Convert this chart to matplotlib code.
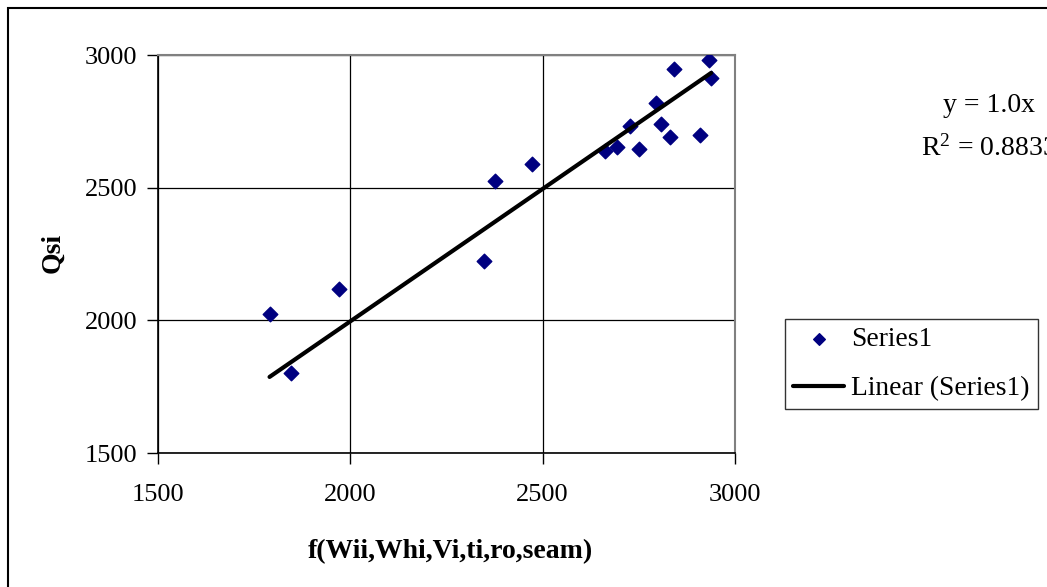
import numpy as np
import matplotlib.pyplot as plt
from matplotlib.patches import Rectangle

# data
x_vals = [1790, 1847, 1971, 2347, 2375, 2472, 2661, 2693, 2726, 2751,
          2795, 2807, 2830, 2841, 2909, 2933, 2938]
y_vals = [2025, 1803, 2117, 2224, 2525, 2590, 2639, 2654, 2734, 2644,
          2818, 2741, 2690, 2947, 2699, 2981, 2912]
x_ticks = [1500, 2000, 2500, 3000]
y_ticks = [1500, 2000, 2500, 3000]

plt.rcParams['font.family'] = ['Liberation Serif', 'DejaVu Serif']
plt.rcParams['mathtext.fontset'] = 'custom'
plt.rcParams['mathtext.rm'] = 'Liberation Serif'
plt.rcParams['mathtext.it'] = 'Liberation Serif:italic'
plt.rcParams['mathtext.bf'] = 'Liberation Serif:bold'

x = np.array(x_vals, dtype=float)
y = np.array(y_vals, dtype=float)
# linear trend through the origin (y = a*x)
a = np.sum(x * y) / np.sum(x * x)
xf = np.array([x.min(), x.max()])

fig = plt.figure(figsize=(10.47, 5.87), dpi=100)
ax = fig.add_axes([158 / 1047, 1 - 453 / 587, (735 - 158) / 1047, (453 - 55) / 587])

ax.grid(True, color='black', linewidth=0.9, zorder=0)
ax.set_axisbelow(True)
ax.scatter(x, y, marker='D', s=55, color='#000080', zorder=3, label='Series1')
ax.plot(xf, a * xf, color='black', linewidth=3, solid_capstyle='round', zorder=4,
        label='Linear (Series1)')

ax.set_xlim(1500, 3000)
ax.set_ylim(1500, 3000)
ax.set_xticks(x_ticks)
ax.set_yticks(y_ticks)
ax.tick_params(direction='out', length=8, width=1, labelsize=19)
ax.tick_params(axis='x', pad=14)
ax.tick_params(axis='y', pad=7)

for s in ['top', 'right']:
    ax.spines[s].set_color('#808080')
    ax.spines[s].set_linewidth(1.5)
for s in ['left', 'bottom']:
    ax.spines[s].set_color('black')
    ax.spines[s].set_linewidth(1.2)

fig.text(450 / 1047, 1 - 552 / 587, 'f(Wii,Whi,Vi,ti,ro,seam)', ha='center', va='center',
         fontsize=20, fontweight='bold')
fig.text(53 / 1047, 1 - 253 / 587, 'Qsi', ha='center', va='center', rotation=90,
         fontsize=20, fontweight='bold')

# trendline equation
fig.text(989 / 1047, 1 - 105 / 587, 'y = %.1fx' % a, ha='center', va='center', fontsize=20)
fig.text(989 / 1047, 1 - 148 / 587, r'R$^{2}$ = 0.8833', ha='center', va='center', fontsize=20)

leg = ax.legend(loc='upper left', bbox_to_anchor=(785 / 1047, 1 - 319 / 587),
                bbox_transform=fig.transFigure, fontsize=19.8, frameon=True, fancybox=False,
                markerscale=0.8, handlelength=1.85, handletextpad=0.25, borderpad=0.3,
                labelspacing=0.85, borderaxespad=0)
leg.get_frame().set_edgecolor('black')
leg.get_frame().set_linewidth(1)

# outer chart frame
fig.patches.append(Rectangle((8 / 1047, -0.05), 1.2, 1 - 8 / 587 + 0.05,
                             transform=fig.transFigure, fill=False, edgecolor='black',
                             linewidth=1.5))

fig.savefig('out.png', dpi=100)
